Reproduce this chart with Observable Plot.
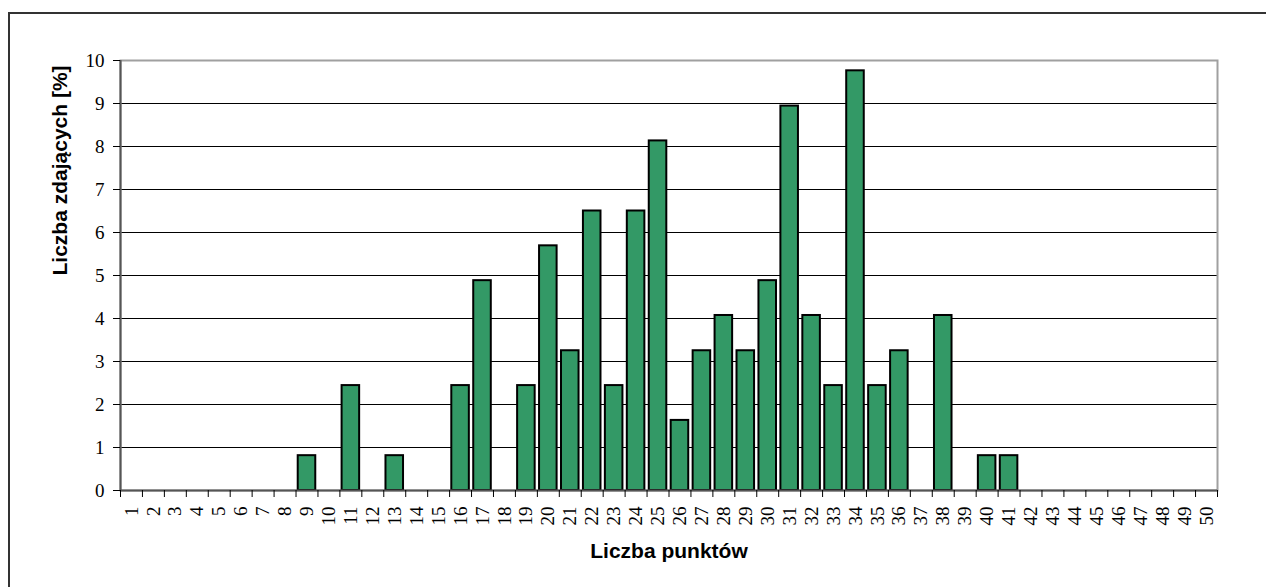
<!DOCTYPE html>
<html>
<head>
<meta charset="utf-8">
<script src="https://cdn.jsdelivr.net/npm/d3@7"></script>
<script src="https://cdn.jsdelivr.net/npm/@observablehq/plot@0.6"></script>
<style>
  html, body { margin: 0; padding: 0; background: #fff; }
  #wrap { position: relative; width: 1266px; height: 587px; overflow: hidden; }
  #border { position: absolute; left: 8px; top: 12px; width: 1300px; height: 640px; border: 2px solid #333; box-sizing: border-box; }
  #chart { position: absolute; left: 0; top: 0; }
</style>
</head>
<body>
<div id="wrap"><div id="border"></div><div id="chart"></div></div>
<script>
const points = [1,2,3,4,5,6,7,8,9,10,11,12,13,14,15,16,17,18,19,20,21,22,23,24,25,26,27,28,29,30,31,32,33,34,35,36,37,38,39,40,41,42,43,44,45,46,47,48,49,50];
const percents = [0,0,0,0,0,0,0,0,0.81,0,2.44,0,0.81,0,0,2.44,4.88,0,2.44,5.69,3.25,6.50,2.44,6.50,8.13,1.63,3.25,4.07,3.25,4.88,8.94,4.07,2.44,9.76,2.44,3.25,0,4.07,0,0.81,0.81,0,0,0,0,0,0,0,0,0];
const yTicks = [0,1,2,3,4,5,6,7,8,9,10];
const gridValues = [1,2,3,4,5,6,7,8,9];
const xTitle = "Liczba punktów";
const yTitle = "Liczba zdających [%]";

const data = points.map((p, i) => ({p, v: percents[i]})).filter(d => d.v > 0);
const boundaries = [0].concat(points).map(p => p + 0.5);
const serif = "Liberation Serif, serif";
const sans = "Liberation Sans, Arial, sans-serif";

const chart = Plot.plot({
  width: 1266,
  height: 587,
  marginLeft: 120,
  marginRight: 49,
  marginTop: 60,
  marginBottom: 97,
  style: {fontFamily: "serif", fontSize: "19px", color: "#000", background: "transparent", overflow: "visible"},
  x: {type: "linear", domain: [0.5, 50.5]},
  y: {domain: [0, 10]},
  marks: [
    Plot.ruleY(gridValues, {stroke: "#000", strokeWidth: 1}),
    Plot.frame({stroke: "#a0a0a0", strokeWidth: 2}),
    Plot.rectY(data, {x1: d => d.p - 0.4, x2: d => d.p + 0.4, y: "v", fill: "#339966", stroke: "#000", strokeWidth: 2}),
    Plot.ruleX([0.5], {stroke: "#555", strokeWidth: 2}),
    Plot.ruleY([0], {stroke: "#555", strokeWidth: 2}),
    Plot.axisY({ticks: yTicks, tickSize: 7, tickPadding: 9, tickFormat: "d", label: null, fontSize: 19, fontFamily: serif}),
    Plot.axisX({ticks: boundaries, tickSize: 7, tickFormat: () => "", label: null}),
    Plot.axisX({ticks: points, tickSize: 0, tickPadding: 16, tickRotate: -90, tickFormat: "d", label: null, fontSize: 19, fontFamily: serif}),
    Plot.text([xTitle], {frameAnchor: "bottom", dy: 67, lineAnchor: "bottom", fontFamily: sans, fontWeight: "bold", fontSize: 21}),
    Plot.text([yTitle], {frameAnchor: "left", dx: -60, rotate: -90, fontFamily: sans, fontWeight: "bold", fontSize: 21})
  ]
});
document.getElementById("chart").appendChild(chart);
chart.querySelectorAll('g[aria-label$="tick label"] text').forEach(t => {
  t.style.fontFamily = "'Liberation Serif', serif";
  t.style.fontSize = "19px";
  t.style.fontWeight = "normal";
});
chart.querySelectorAll("text").forEach(t => { getComputedStyle(t).fontFamily; t.getBBox(); });
</script>
</body>
</html>
